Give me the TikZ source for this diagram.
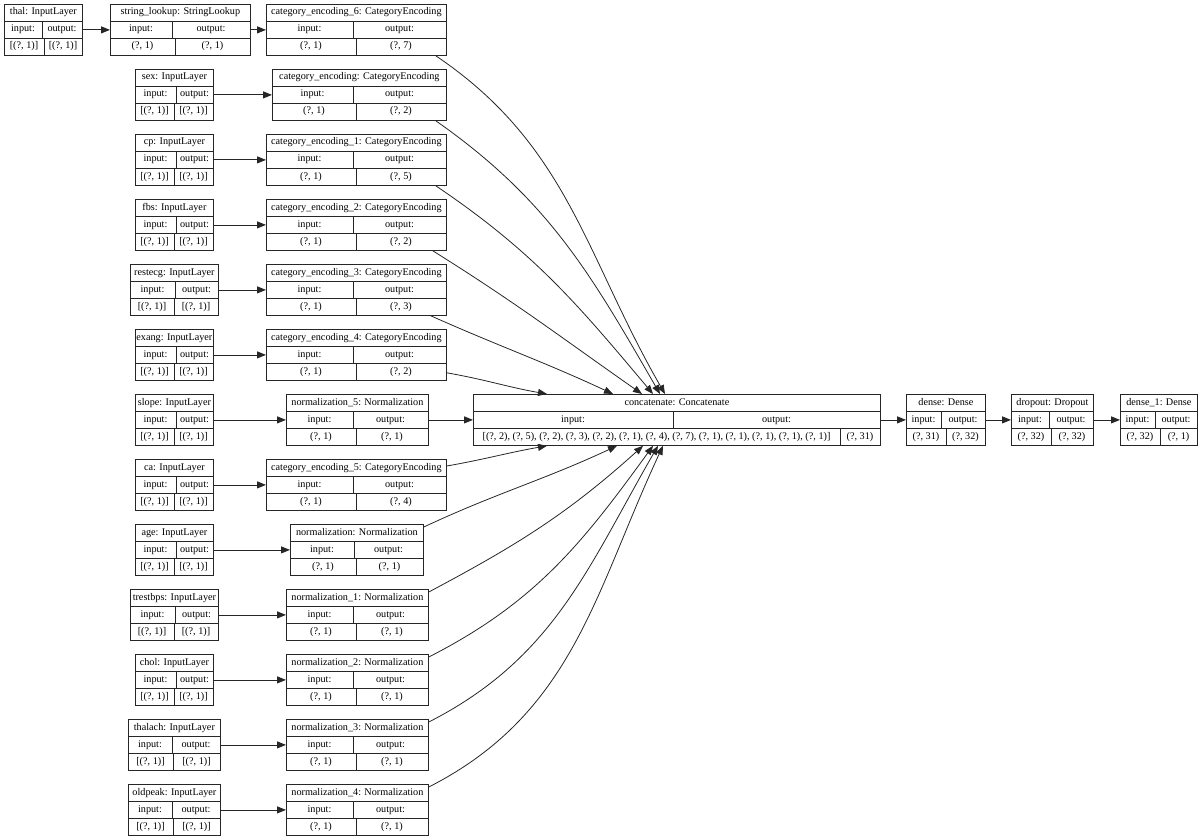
\documentclass[tikz,border=0pt]{standalone}
\usepackage{fontspec}
\setmainfont{Liberation Serif}
\usetikzlibrary{arrows.meta,positioning,calc}

% one keras layer: name, left, top, width, title, label split, value split, in, out
\newcommand{\layerbox}[9]{%
  \node[lbox,minimum width=#4pt,anchor=north west] (#1) at (#2,-#3) {};
  \draw[lline] ($(#1.north west)+(0,-17)$) -- ++(#4,0);
  \draw[lline] ($(#1.north west)+(0,-34)$) -- ++(#4,0);
  \draw[lline] ($(#1.north west)+(#6,-17)$) -- ++(0,-17);
  \draw[lline] ($(#1.north west)+(#7,-34)$) -- ++(0,-17);
  \node[cell] at ($(#1.north)+(0,-8.5)$) {#5};
  \node[cell] at ($(#1.north west)+({#6/2},-25.5)$) {input:};
  \node[cell] at ($(#1.north west)+({(#6+#4)/2},-25.5)$) {output:};
  \node[cell] at ($(#1.north west)+({#7/2},-42.5)$) {#8};
  \node[cell] at ($(#1.north west)+({(#7+#4)/2},-42.5)$) {#9};
}

\begin{document}
\begin{tikzpicture}[
  x=1pt, y=1pt,
  lbox/.style={rectangle,draw=black!85,line width=0.8pt,inner sep=0pt,minimum height=51pt},
  lline/.style={draw=black!85,line width=0.8pt},
  cell/.style={inner sep=0pt,font=\fontsize{10.2}{12}\selectfont,text height=7pt,text depth=2pt},
  arr/.style={-{Triangle[length=9pt,width=7pt]},draw=black!85,line width=0.8pt}
]
  \useasboundingbox (0,0) rectangle (1200,-840);

  % row 0
  \layerbox{thal}{4}{4}{78}{thal: InputLayer}{38}{40}{[(?, 1)]}{[(?, 1)]}
  \layerbox{lookup}{110}{4}{140}{string\_lookup: StringLookup}{62}{65}{(?, 1)}{(?, 1)}
  \layerbox{enc6}{266}{4}{180}{category\_encoding\_6: CategoryEncoding}{87}{90}{(?, 1)}{(?, 7)}
  % categorical inputs
  \layerbox{sex}{135}{69}{78}{sex: InputLayer}{41}{39}{[(?, 1)]}{[(?, 1)]}
  \layerbox{enc0}{272}{69}{174}{category\_encoding: CategoryEncoding}{81}{84}{(?, 1)}{(?, 2)}
  \layerbox{cp}{135}{134}{78}{cp: InputLayer}{41}{39}{[(?, 1)]}{[(?, 1)]}
  \layerbox{enc1}{266}{134}{180}{category\_encoding\_1: CategoryEncoding}{87}{90}{(?, 1)}{(?, 5)}
  \layerbox{fbs}{135}{199}{78}{fbs: InputLayer}{41}{39}{[(?, 1)]}{[(?, 1)]}
  \layerbox{enc2}{266}{199}{180}{category\_encoding\_2: CategoryEncoding}{87}{90}{(?, 1)}{(?, 2)}
  \layerbox{restecg}{130}{264}{88}{restecg: InputLayer}{45}{44}{[(?, 1)]}{[(?, 1)]}
  \layerbox{enc3}{266}{264}{180}{category\_encoding\_3: CategoryEncoding}{87}{90}{(?, 1)}{(?, 3)}
  \layerbox{exang}{135}{329}{78}{exang: InputLayer}{41}{39}{[(?, 1)]}{[(?, 1)]}
  \layerbox{enc4}{266}{329}{180}{category\_encoding\_4: CategoryEncoding}{87}{90}{(?, 1)}{(?, 2)}
  % middle row
  \layerbox{slope}{135}{394}{78}{slope: InputLayer}{41}{39}{[(?, 1)]}{[(?, 1)]}
  \layerbox{norm5}{286}{394}{142}{normalization\_5: Normalization}{67}{70}{(?, 1)}{(?, 1)}
  \layerbox{concat}{473}{394}{407}{concatenate: Concatenate}{200}{367}{[(?, 2), (?, 5), (?, 2), (?, 3), (?, 2), (?, 1), (?, 4), (?, 7), (?, 1), (?, 1), (?, 1), (?, 1), (?, 1)]}{(?, 31)}
  \layerbox{dense}{906}{394}{79}{dense: Dense}{35}{40}{(?, 31)}{(?, 32)}
  \layerbox{dropout}{1011}{394}{82}{dropout: Dropout}{38}{40}{(?, 32)}{(?, 32)}
  \layerbox{dense1}{1120}{394}{77}{dense\_1: Dense}{35}{40}{(?, 32)}{(?, 1)}
  % lower inputs
  \layerbox{ca}{135}{459}{78}{ca: InputLayer}{41}{39}{[(?, 1)]}{[(?, 1)]}
  \layerbox{enc5}{266}{459}{180}{category\_encoding\_5: CategoryEncoding}{87}{90}{(?, 1)}{(?, 4)}
  \layerbox{age}{135}{524}{78}{age: InputLayer}{41}{39}{[(?, 1)]}{[(?, 1)]}
  \layerbox{norm0}{290}{524}{133}{normalization: Normalization}{64}{66}{(?, 1)}{(?, 1)}
  \layerbox{trestbps}{130}{589}{88}{trestbps: InputLayer}{45}{44}{[(?, 1)]}{[(?, 1)]}
  \layerbox{norm1}{286}{589}{142}{normalization\_1: Normalization}{67}{70}{(?, 1)}{(?, 1)}
  \layerbox{chol}{135}{654}{78}{chol: InputLayer}{41}{39}{[(?, 1)]}{[(?, 1)]}
  \layerbox{norm2}{286}{654}{142}{normalization\_2: Normalization}{67}{70}{(?, 1)}{(?, 1)}
  \layerbox{thalach}{128}{719}{92}{thalach: InputLayer}{44}{45}{[(?, 1)]}{[(?, 1)]}
  \layerbox{norm3}{286}{719}{142}{normalization\_3: Normalization}{67}{70}{(?, 1)}{(?, 1)}
  \layerbox{oldpeak}{128}{784}{92}{oldpeak: InputLayer}{44}{45}{[(?, 1)]}{[(?, 1)]}
  \layerbox{norm4}{286}{784}{142}{normalization\_4: Normalization}{67}{70}{(?, 1)}{(?, 1)}

  % straight links
  \draw[arr] (thal) -- (lookup);
  \draw[arr] (lookup) -- (enc6);
  \draw[arr] (sex) -- (enc0);
  \draw[arr] (cp) -- (enc1);
  \draw[arr] (fbs) -- (enc2);
  \draw[arr] (restecg) -- (enc3);
  \draw[arr] (exang) -- (enc4);
  \draw[arr] (slope) -- (norm5);
  \draw[arr] (ca) -- (enc5);
  \draw[arr] (age) -- (norm0);
  \draw[arr] (trestbps) -- (norm1);
  \draw[arr] (chol) -- (norm2);
  \draw[arr] (thalach) -- (norm3);
  \draw[arr] (oldpeak) -- (norm4);
  \draw[arr] (norm5) -- (concat);
  \draw[arr] (concat) -- (dense);
  \draw[arr] (dense) -- (dropout);
  \draw[arr] (dropout) -- (dense1);

  % into concatenate from above
  \draw[arr] ([xshift=-11]enc6.south east) to[out=-34,in=120] ([xshift=192]concat.north west);
  \draw[arr] ([xshift=-11]enc0.south east) to[out=-35,in=120] ([xshift=187]concat.north west);
  \draw[arr] ([xshift=-11]enc1.south east) to[out=-34,in=130] ([xshift=180]concat.north west);
  \draw[arr] ([xshift=-14]enc2.south east) to[out=-32,in=145] ([xshift=169]concat.north west);
  \draw[arr] ([xshift=-16]enc3.south east) to[out=-24,in=155] ([xshift=140]concat.north west);
  \draw[arr] ([yshift=8]enc4.south east) to[out=-10,in=170] ([xshift=74]concat.north west);
  % into concatenate from below
  \draw[arr] ([yshift=-7]enc5.north east) to[out=10,in=-170] ([xshift=74]concat.south west);
  \draw[arr] ([yshift=-3]norm0.north east) to[out=25,in=-155] ([xshift=144]concat.south west);
  \draw[arr] ([yshift=-3]norm1.north east) to[out=28,in=-138] ([xshift=170]concat.south west);
  \draw[arr] ([yshift=-3]norm2.north east) to[out=27,in=-126] ([xshift=180]concat.south west);
  \draw[arr] ([yshift=-3]norm3.north east) to[out=27,in=-120] ([xshift=185]concat.south west);
  \draw[arr] ([yshift=-3]norm4.north east) to[out=27,in=-115] ([xshift=190]concat.south west);
\end{tikzpicture}
\end{document}
